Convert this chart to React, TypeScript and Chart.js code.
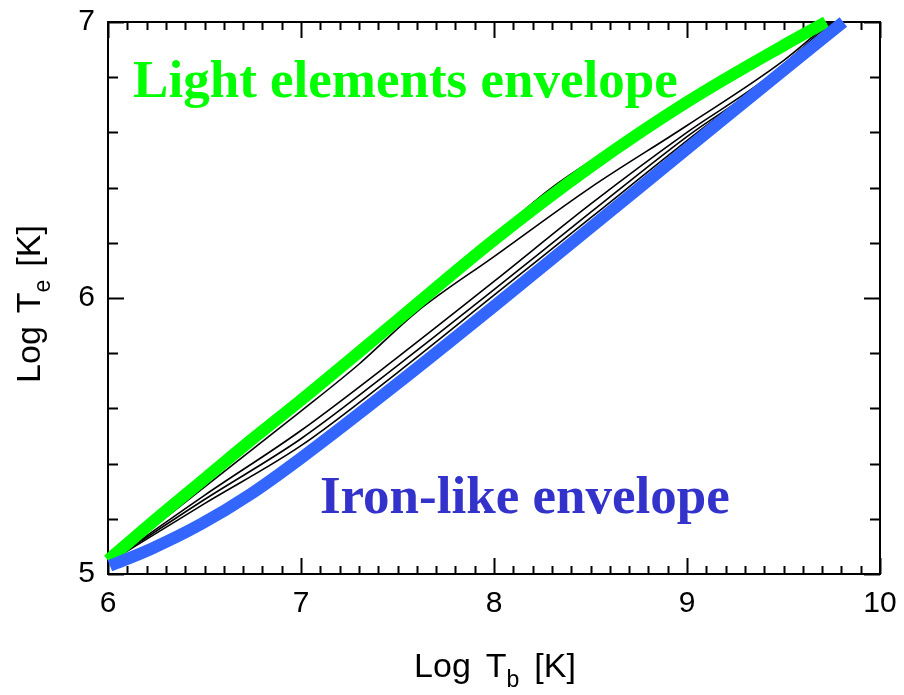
import React, { useEffect, useRef } from "react";
import { Chart, registerables } from "chart.js";

Chart.register(...registerables);

// Effective temperature vs. internal (base) temperature, both as log10 K.
// Light-element (accreted) envelope – upper bound
const lightTb = [6.0, 6.25, 6.5, 6.75, 7.0, 7.5, 8.0, 8.5, 9.0, 9.5, 9.72];
const lightTe = [5.05, 5.2, 5.345, 5.49, 5.63, 5.92, 6.21, 6.475, 6.71, 6.915, 7.0];

// Iron-like envelope – lower bound
const ironTb = [6.01, 6.22, 6.48, 6.74, 7.0, 7.5, 8.0, 8.5, 9.0, 9.5, 9.81];
const ironTe = [5.03, 5.09, 5.18, 5.29, 5.42, 5.69, 5.97, 6.255, 6.54, 6.825, 7.0];

// Partially accreted envelopes lying between the two bounds
const mixATb = [6.0, 6.3, 6.6, 7.0, 7.3, 7.6, 8.0, 8.5, 9.0, 9.5, 9.74];
const mixATe = [5.04, 5.205, 5.37, 5.59, 5.76, 5.95, 6.15, 6.4, 6.625, 6.86, 7.0];

const mixBTb = [6.0, 6.5, 7.0, 7.5, 8.0, 8.5, 9.0, 9.4, 9.75];
const mixBTe = [5.04, 5.285, 5.52, 5.785, 6.06, 6.34, 6.6, 6.79, 7.0];

const mixCTb = [6.0, 6.5, 7.0, 7.5, 8.0, 8.5, 9.0, 9.4, 9.76];
const mixCTe = [5.04, 5.27, 5.49, 5.755, 6.03, 6.31, 6.585, 6.78, 7.0];

const mixDTb = [6.0, 6.5, 7.0, 7.5, 8.0, 8.5, 9.0, 9.4, 9.77];
const mixDTe = [5.04, 5.255, 5.465, 5.73, 6.01, 6.29, 6.57, 6.785, 7.0];

const mixETb = [6.0, 7.0, 7.5, 8.0, 8.3, 8.5, 8.7, 9.0, 9.5, 9.72];
const mixETe = [5.04, 5.63, 5.93, 6.225, 6.4, 6.495, 6.575, 6.7, 6.905, 7.0];

// Axis ranges and ticks
const xRange = [6, 10];
const yRange = [5, 7];
const xMajorStep = 1;
const yMajorStep = 1;
const xMinorStep = 0.1;
const yMinorStep = 0.2;

const lightLabel = "Light elements envelope";
const ironLabel = "Iron-like envelope";

const toPoints = (xs: number[], ys: number[]) => xs.map((x, i) => ({ x, y: ys[i] }));

const TICK_FONT = "Liberation Sans, Arial, sans-serif";
const LABEL_FONT = "Liberation Serif, 'Times New Roman', serif";

// Boxed frame with inward major/minor ticks on all four sides
const framePlugin = {
  id: "frameTicks",
  beforeDatasetsDraw(chart: any) {
    const { ctx, chartArea: a, scales } = chart;
    const xs = scales.x;
    const ys = scales.y;
    ctx.save();
    ctx.strokeStyle = "#000";
    ctx.lineWidth = 2;
    ctx.strokeRect(a.left, a.top, a.right - a.left, a.bottom - a.top);
    ctx.beginPath();
    const nx = Math.round((xRange[1] - xRange[0]) / xMinorStep);
    const perX = Math.round(xMajorStep / xMinorStep);
    for (let i = 0; i <= nx; i++) {
      const px = Math.round(xs.getPixelForValue(xRange[0] + i * xMinorStep)) + 0.5;
      const len = i % perX === 0 ? 16 : 8;
      ctx.moveTo(px, a.bottom);
      ctx.lineTo(px, a.bottom - len);
      ctx.moveTo(px, a.top);
      ctx.lineTo(px, a.top + len);
    }
    const ny = Math.round((yRange[1] - yRange[0]) / yMinorStep);
    const perY = Math.round(yMajorStep / yMinorStep);
    for (let i = 0; i <= ny; i++) {
      const py = Math.round(ys.getPixelForValue(yRange[0] + i * yMinorStep)) + 0.5;
      const len = i % perY === 0 ? 16 : 10;
      ctx.moveTo(a.left, py);
      ctx.lineTo(a.left + len, py);
      ctx.moveTo(a.right, py);
      ctx.lineTo(a.right - len, py);
    }
    ctx.stroke();
    ctx.restore();
  },
};

type Part = { text: string; sub?: boolean; gap?: number };

function drawParts(ctx: CanvasRenderingContext2D, parts: Part[], size: number) {
  const subSize = Math.round(size * 0.68);
  const widths = parts.map((p) => {
    ctx.font = `${p.sub ? subSize : size}px ${TICK_FONT}`;
    return ctx.measureText(p.text).width + (p.gap || 0);
  });
  const total = widths.reduce((s, w) => s + w, 0);
  let x = -total / 2;
  parts.forEach((p, i) => {
    ctx.font = `${p.sub ? subSize : size}px ${TICK_FONT}`;
    ctx.fillText(p.text, x, p.sub ? size * 0.3 : 0);
    x += widths[i];
  });
}

// Axis titles with subscripts and the two envelope annotations
const textPlugin = {
  id: "axisText",
  afterDraw(chart: any) {
    const { ctx, chartArea: a, scales } = chart;
    ctx.save();
    ctx.fillStyle = "#000";
    ctx.textBaseline = "alphabetic";
    ctx.textAlign = "left";

    // x-axis title
    ctx.save();
    ctx.translate((a.left + a.right) / 2 + 1, 677);
    drawParts(
      ctx,
      [
        { text: "Log", gap: 15 },
        { text: "T" },
        { text: "b", sub: true, gap: 15 },
        { text: "[K]" },
      ],
      34
    );
    ctx.restore();

    // y-axis title
    ctx.save();
    ctx.translate(40, 304);
    ctx.rotate(-Math.PI / 2);
    drawParts(
      ctx,
      [
        { text: "Log", gap: 13 },
        { text: "T" },
        { text: "e", sub: true, gap: 13 },
        { text: "[K]" },
      ],
      34
    );
    ctx.restore();

    // envelope annotations
    ctx.font = `bold 53px ${LABEL_FONT}`;
    ctx.fillStyle = "#00ff00";
    ctx.fillText(lightLabel, scales.x.getPixelForValue(6.13), scales.y.getPixelForValue(6.728));
    ctx.fillStyle = "#3333cc";
    ctx.fillText(ironLabel, scales.x.getPixelForValue(7.098), scales.y.getPixelForValue(5.221));
    ctx.restore();
  },
};

export default function App() {
  const canvasRef = useRef<HTMLCanvasElement | null>(null);

  useEffect(() => {
    if (!canvasRef.current) return;
    const thin = (xs: number[], ys: number[]) => ({
      data: toPoints(xs, ys),
      borderColor: "#000000",
      borderWidth: 1.6,
      pointRadius: 0,
      cubicInterpolationMode: "monotone" as const,
      clip: false as const,
    });
    const chart = new Chart(canvasRef.current, {
      type: "line",
      data: {
        datasets: [
          {
            label: ironLabel,
            data: toPoints(ironTb, ironTe),
            borderColor: "#3366ff",
            borderWidth: 12,
            borderCapStyle: "butt",
            pointRadius: 0,
            cubicInterpolationMode: "monotone",
            clip: false,
          },
          {
            label: lightLabel,
            data: toPoints(lightTb, lightTe),
            borderColor: "#00ff00",
            borderWidth: 12,
            borderCapStyle: "butt",
            pointRadius: 0,
            cubicInterpolationMode: "monotone",
            clip: false,
          },
          { label: "A", ...thin(mixATb, mixATe) },
          { label: "B", ...thin(mixBTb, mixBTe) },
          { label: "C", ...thin(mixCTb, mixCTe) },
          { label: "D", ...thin(mixDTb, mixDTe) },
          { label: "E", ...thin(mixETb, mixETe) },
        ],
      },
      options: {
        animation: false,
        responsive: false,
        layout: { padding: { left: 0, top: 22, right: 24, bottom: 0 } },
        plugins: {
          legend: { display: false },
          tooltip: { enabled: false },
        },
        scales: {
          x: {
            type: "linear",
            min: xRange[0],
            max: xRange[1],
            border: { display: false },
            grid: { display: false, drawTicks: false },
            ticks: {
              stepSize: xMajorStep,
              color: "#000",
              padding: 7,
              font: { family: TICK_FONT, size: 30, lineHeight: 1.53 },
            },
            afterFit: (s: any) => {
              s.height = 121;
            },
          },
          y: {
            type: "linear",
            min: yRange[0],
            max: yRange[1],
            border: { display: false },
            grid: { display: false, drawTicks: false },
            ticks: {
              stepSize: yMajorStep,
              color: "#000",
              padding: 13,
              font: { family: TICK_FONT, size: 30, lineHeight: 0.6 },
            },
            afterFit: (s: any) => {
              s.width = 108;
            },
          },
        },
      },
      plugins: [framePlugin, textPlugin],
    });
    return () => chart.destroy();
  }, []);

  return (
    <div style={{ position: "fixed", left: 0, top: 0, width: 904, height: 695, background: "#fff" }}>
      <canvas ref={canvasRef} width={904} height={695} style={{ display: "block" }} />
    </div>
  );
}
